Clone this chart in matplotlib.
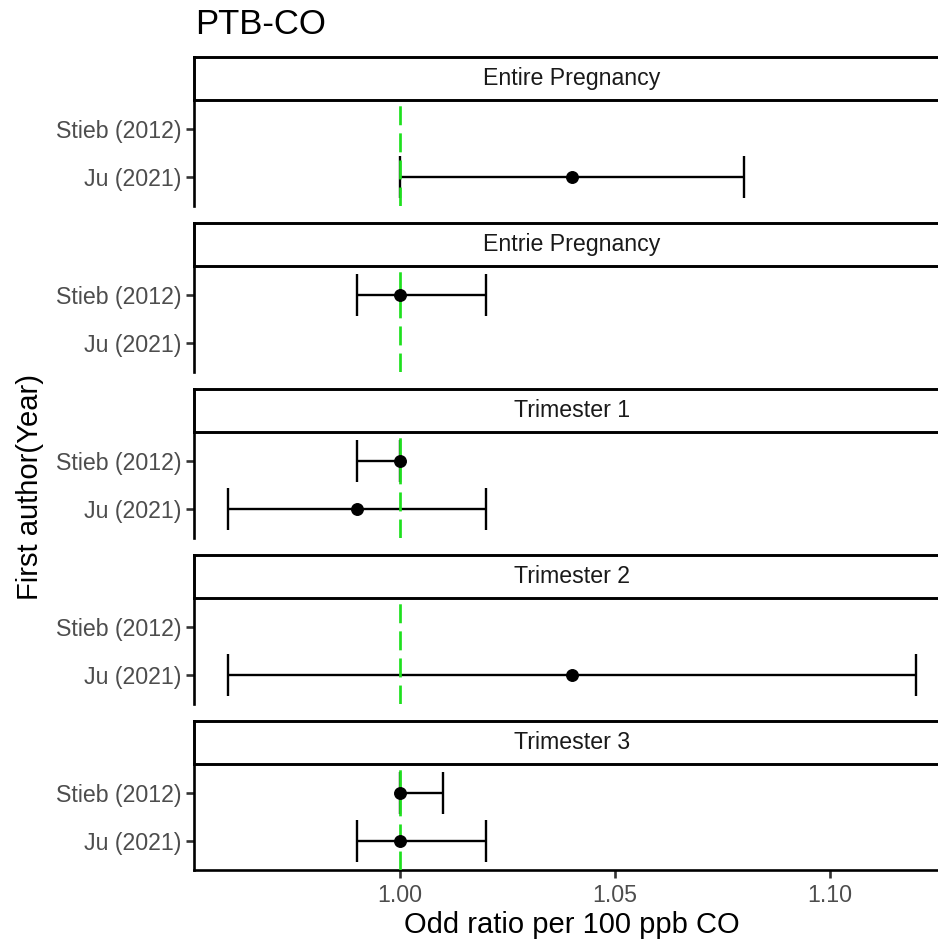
import numpy as np
import matplotlib
matplotlib.use("Agg")
import matplotlib.pyplot as plt

# Forest-plot data: odds ratio and 95% CI per 100 ppb CO, by exposure window
windows = ["Entire Pregnancy", "Entrie Pregnancy", "Trimester 1", "Trimester 2", "Trimester 3"]
studies = ["Ju (2021)", "Stieb (2012)"]          # bottom -> top within each panel

stieb_or = [np.nan, 1.00, 1.00, np.nan, 1.00]
stieb_lo = [np.nan, 0.99, 0.99, np.nan, 1.00]
stieb_hi = [np.nan, 1.02, 1.00, np.nan, 1.01]

ju_or = [1.04, np.nan, 0.99, 1.04, 1.00]
ju_lo = [1.00, np.nan, 0.96, 0.96, 0.99]
ju_hi = [1.08, np.nan, 1.02, 1.12, 1.02]

x_ticks = [1.00, 1.05, 1.10]
x_tick_labels = ["1.00", "1.05", "1.10"]
ref_value = 1.00

title = "PTB-CO"
x_title = "Odd ratio per 100 ppb CO"
y_title = "First author(Year)"

# ---------------------------------------------------------------- layout
W, H = 938, 942
fig = plt.figure(figsize=(W / 100, H / 100), dpi=100)
plt.rcParams["font.family"] = ["Liberation Sans", "DejaVu Sans"]

px_left, px_right = 194, 950          # panel extent in pixels
strip_h, panel_h, step, top0 = 43, 106, 166, 57

def fx(px):
    return px / W

def fy(py):
    return 1 - py / H

# x range with 5% padding around the data, as in ggplot
all_x = np.array(stieb_lo + stieb_hi + ju_lo + ju_hi, dtype=float)
xmin, xmax = np.nanmin(all_x), np.nanmax(all_x)
pad = 0.05 * (xmax - xmin)
xlim = (xmin - pad, xmax + pad)

tick_col = "#4D4D4D"
green = "#1EE01E"
axis_lw = 1.9
label_size = 16.7

for i, win in enumerate(windows):
    s_top = top0 + step * i
    s_bot = s_top + strip_h
    p_bot = s_bot + panel_h

    # panel
    ax = fig.add_axes([fx(px_left), fy(p_bot), fx(px_right - px_left), panel_h / H])
    ax.patch.set_alpha(0)
    ax.set_xlim(*xlim)
    ax.set_ylim(0.4, 2.6)
    for side in ("top", "right", "bottom"):
        ax.spines[side].set_visible(False)
    ax.spines["left"].set_linewidth(axis_lw)

    ax.set_yticks([1, 2])
    ax.set_yticklabels(studies)
    ax.tick_params(axis="y", length=6, width=axis_lw, color="#333333",
                   labelsize=label_size, labelcolor=tick_col, pad=3)

    rows = [(1, ju_or[i], ju_lo[i], ju_hi[i]), (2, stieb_or[i], stieb_lo[i], stieb_hi[i])]
    for y, est, lo, hi in rows:
        if np.isnan(est):
            continue
        ax.errorbar([est], [y], xerr=[[est - lo], [hi - est]], fmt="none",
                    ecolor="black", elinewidth=1.7, capsize=15, capthick=1.7, zorder=2)
    ax.axvline(ref_value, color=green, lw=1.95, linestyle=(0, (7, 3)), zorder=3)
    for y, est, lo, hi in rows:
        if np.isnan(est):
            continue
        ax.plot([est], [y], "o", color="black", ms=8.3, zorder=4)

    if i == len(windows) - 1:
        ax.spines["bottom"].set_visible(True)
        ax.spines["bottom"].set_linewidth(axis_lw)
        ax.set_xticks(x_ticks)
        ax.set_xticklabels(x_tick_labels)
        ax.tick_params(axis="x", length=6, width=axis_lw, color="#333333",
                       labelsize=label_size, labelcolor=tick_col, pad=4)
    else:
        ax.set_xticks([])

    # strip (drawn after the panel so its full border shows)
    sax = fig.add_axes([fx(px_left), fy(s_bot), fx(px_right - px_left), strip_h / H])
    sax.set_xticks([]); sax.set_yticks([])
    sax.set_facecolor("white")
    for sp in sax.spines.values():
        sp.set_linewidth(2.1)
        sp.set_color("black")
    sax.text(0.5, 0.5, win, transform=sax.transAxes, ha="center", va="center",
             fontsize=label_size, color="#1A1A1A")

fig.text(fx(195), fy(34), title, ha="left", va="baseline", fontsize=25, color="black")
fig.text(fx((px_left + px_right) / 2), fy(933), x_title, ha="center", va="baseline",
         fontsize=21, color="black")
fig.text(fx(30), fy(487), y_title, ha="center", va="center", rotation=90,
         fontsize=21, color="black")

fig.savefig("out.png", dpi=100, facecolor="white")
